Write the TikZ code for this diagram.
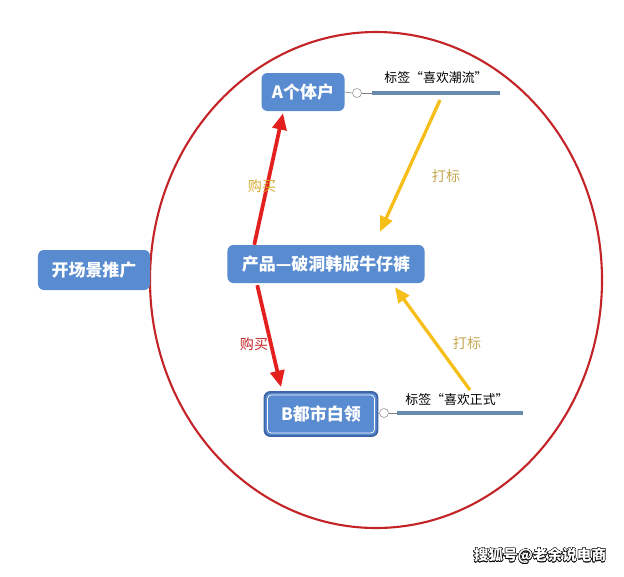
\documentclass[tikz,border=0pt]{standalone}
\usepackage{fontspec}
\setmainfont{Noto Sans CJK SC}
\usepackage{tikz}
\usepackage{contour}
\usetikzlibrary{arrows.meta,calc}

\definecolor{boxblue}{RGB}{88,139,207}
\definecolor{boxdark}{RGB}{62,101,168}
\definecolor{ringred}{RGB}{196,36,40}
\definecolor{buyred}{RGB}{228,32,30}
\definecolor{tagyellow}{RGB}{246,190,24}
\definecolor{tagline}{RGB}{104,138,172}
\definecolor{goldtext}{RGB}{214,170,50}
\definecolor{khaki}{RGB}{196,168,80}

\tikzset{
  mapbox/.style={fill=boxblue, rounded corners=5pt, text=white,
    font=\bfseries\fontsize{14.5}{16}\selectfont, inner sep=0pt},
  tagtext/.style={font=\fontsize{11}{13}\selectfont, text=black},
  buyline/.style={draw=buyred, line width=3.2pt, -{Triangle[length=14pt,width=12pt]}},
  markline/.style={draw=tagyellow, line width=2.8pt, -{Triangle[length=13pt,width=11pt]}}
}

\begin{document}
\begin{tikzpicture}[x=0.03cm,y=-0.03cm]
\useasboundingbox[fill=white] (0,0) rectangle (624,576);

\draw[draw=ringred, line width=1.8pt] (376,280) ellipse (226 and 248);

\node[mapbox, minimum width=2.49cm, minimum height=1.14cm] (A) at (303,92) {A个体户};
\node[mapbox, minimum width=3.36cm, minimum height=1.2cm] (scene) at (94,270) {开场景推广};
\node[mapbox, minimum width=5.91cm, minimum height=1.14cm] (prod) at (326,264) {产品—破洞韩版牛仔裤};
\node[mapbox, draw=boxdark, line width=1.6pt, minimum width=3.39cm, minimum height=1.32cm] (B) at (321,414) {B都市白领};
\draw[white, line width=0.6pt, rounded corners=3pt]
  ($(B.north west)+(4,4)$) rectangle ($(B.south east)+(-4,-4)$);

% tags
\node[circle, draw=gray, fill=white, inner sep=0pt, minimum size=0.27cm] (tA) at (357,93) {};
\draw[gray, line width=0.5pt] (A.east) -- (tA.west);
\draw[gray, line width=0.5pt] (tA.east) -- (372,93) coordinate (tAa);
\draw[tagline, line width=2.6pt] (tAa) -- (500,93) coordinate (tAb);
\node[tagtext] (labA) at (436,78) {标签“喜欢潮流”};

\node[circle, draw=gray, fill=white, inner sep=0pt, minimum size=0.27cm] (tB) at (384,413) {};
\draw[gray, line width=0.5pt] (B.east) -- (tB.west);
\draw[gray, line width=0.5pt] (tB.east) -- (397,413) coordinate (tBa);
\draw[tagline, line width=2.6pt] (tBa) -- (523,413) coordinate (tBb);
\node[tagtext] (labB) at (457,400) {标签“喜欢正式”};

% arrows
\draw[buyline] ($(prod.north west)+(27,0)$) -- ($(A.south)+(-20,2)$);
\draw[buyline] ($(prod.south west)+(30,2)$) -- ($(B.north)+(-40,-4)$);
\coordinate (yA) at (440,100);
\coordinate (yB) at (470,390);
\draw[markline] (yA) -- ($(prod.north)+(54,-13)$);
\draw[markline] (yB) -- ($(prod.south)+(69,4)$);

\node[font=\fontsize{12}{14}\selectfont, text=goldtext] (buyA) at (262,186) {购买};
\node[font=\fontsize{12}{14}\selectfont, text=ringred] (buyB) at (254,344) {购买};
\node[font=\fontsize{12}{14}\selectfont, text=khaki] (markA) at (446,176) {打标};
\node[font=\fontsize{12}{14}\selectfont, text=khaki] (markB) at (467,343) {打标};

\node[font=\bfseries\fontsize{12.5}{14}\selectfont, text=white] (wm) at (540,556) {\contour{black}{搜狐号@老余说电商}};

\end{tikzpicture}
\end{document}
